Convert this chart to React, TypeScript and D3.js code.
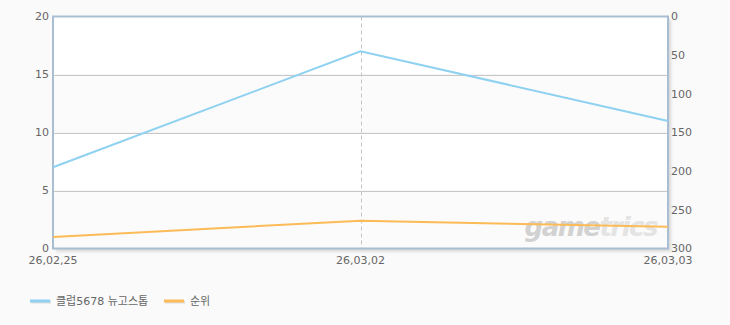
import React from "react";
import * as d3 from "d3";

const categories = ["26,02,25", "26,03,02", "26,03,03"];
const playerValues = [7, 17, 11];
const rankValues = [285, 264, 272];
const leftTicks = [0, 5, 10, 15, 20];
const rightTicks = [0, 50, 100, 150, 200, 250, 300];
const seriesNames = ["클럽5678 뉴고스톱", "순위"];
const seriesColors = ["#8fd1f1", "#fbbb57"];

const W = 730;
const H = 325;
const L = 53;
const R = 668;
const T = 16.5;
const B = 248.5;

export default function App() {
  const x = d3.scalePoint<string>().domain(categories).range([L, R]);
  const yL = d3.scaleLinear().domain([0, 20]).range([B, T]);
  const yR = d3.scaleLinear().domain([0, 300]).range([T, B]);
  const lineL = d3
    .line<number>()
    .x((_, i) => x(categories[i]) as number)
    .y((d) => yL(d));
  const lineR = d3
    .line<number>()
    .x((_, i) => x(categories[i]) as number)
    .y((d) => yR(d));
  const font = "'DejaVu Sans', 'Noto Sans CJK KR', sans-serif";
  const bands = leftTicks.slice(0, -1).map((t, i) => ({ lo: t, hi: leftTicks[i + 1], shade: i % 2 === 0 }));
  return (
    <svg
      width={W}
      height={H}
      style={{ position: "absolute", left: 0, top: 0, background: "#fafafa" }}
      fontFamily={font}
    >
      <defs>
        <filter id="sh" x="-5%" y="-5%" width="110%" height="110%">
          <feGaussianBlur stdDeviation="1.5" />
        </filter>
      </defs>
      <rect x={L + 3} y={T + 3} width={R - L} height={B - T} fill="#d8d8d8" filter="url(#sh)" />
      {bands.map((b, i) => (
        <rect
          key={i}
          x={L}
          y={yL(b.hi)}
          width={R - L}
          height={yL(b.lo) - yL(b.hi)}
          fill={b.shade ? "#fbfbfb" : "#ffffff"}
        />
      ))}
      {leftTicks.slice(1, -1).map((t) => (
        <line key={t} x1={L} x2={R} y1={Math.round(yL(t)) + 0.5} y2={Math.round(yL(t)) + 0.5} stroke="#c8c8c8" strokeWidth={1} />
      ))}
      <line
        x1={Math.round(x(categories[1]) as number) + 0.5}
        x2={Math.round(x(categories[1]) as number) + 0.5}
        y1={T}
        y2={B}
        stroke="#c4c4c4"
        strokeDasharray="4,3"
      />
      <text x={657} y={236} textAnchor="end" fontSize={26} fontStyle="italic" fontWeight="bold" fontFamily="'DejaVu Sans', sans-serif" letterSpacing={-1.5}>
        <tspan fill="#d2d2d2">game</tspan>
        <tspan fill="#e4e4e4">trics</tspan>
      </text>
      <rect x={L} y={T} width={R - L} height={B - T} fill="none" stroke="#a9bdd3" strokeWidth={2} />
      <path d={lineL(playerValues) || ""} fill="none" stroke={seriesColors[0]} strokeWidth={2} />
      <path d={lineR(rankValues) || ""} fill="none" stroke={seriesColors[1]} strokeWidth={2} />
      {leftTicks.map((t) => (
        <text key={t} x={L - 4} y={yL(t)} dy="0.35em" textAnchor="end" fontSize={11} fill="#666">
          {t}
        </text>
      ))}
      {rightTicks.map((t) => (
        <text key={t} x={R + 3} y={yR(t)} dy="0.35em" textAnchor="start" fontSize={11} fill="#666">
          {t}
        </text>
      ))}
      {categories.map((c) => (
        <text key={c} x={x(c)} y={264} textAnchor="middle" fontSize={11} fill="#666">
          {c}
        </text>
      ))}
      {seriesNames.map((n, i) => {
        const lx = i === 0 ? 30 : 164;
        return (
          <g key={n}>
            <line x1={lx + 1} x2={lx + 21} y1={302} y2={302} stroke="#dddddd" strokeWidth={3} />
            <line x1={lx} x2={lx + 20} y1={301} y2={301} stroke={seriesColors[i]} strokeWidth={3} />
            <text x={lx + 26} y={301} dy="0.35em" fontSize={11} fill="#666">
              {n}
            </text>
          </g>
        );
      })}
    </svg>
  );
}
